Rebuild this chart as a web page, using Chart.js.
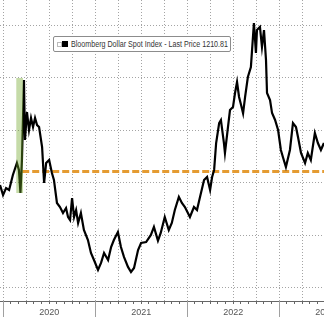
<!DOCTYPE html>
<html>
<head>
<title>Bloomberg Dollar Spot Index</title>
<script src="https://cdn.jsdelivr.net/npm/chart.js@4.4.1/dist/chart.umd.min.js"></script>
<style>
body { margin: 0; background: #fff; }
#wrap { position: relative; width: 324px; height: 317px; }
#legend {
    position: absolute; left: 53px; top: 36px; width: 176px; height: 14px;
    border: 1px solid #8c8c8c; border-radius: 2px; background: #fff;
    font: 8.5px "Liberation Sans", Arial, sans-serif; color: #333;
    white-space: nowrap; overflow: hidden;
}
#legend .sq1 { position: absolute; left: 3px; top: 5px; width: 3px; height: 3px; border: 1px solid #bbb; }
#legend .sq2 { position: absolute; left: 8px; top: 4px; width: 6px; height: 6px; background: #000; }
#legend .txt { position: absolute; left: 17px; top: 2px; transform-origin: 0 0; }
</style>
</head>
<body>
<div id="wrap">
  <canvas id="myChart"></canvas>
  <div id="legend"><span class="sq1"></span><span class="sq2"></span><span class="txt" id="legendText"></span></div>
</div>

<script>
var seriesName = "Bloomberg Dollar Spot Index - Last Price 1210.81";
var lastPrice = 1210.81;

// readings
var dates = ["2019-12-19","2019-12-31","2020-01-12","2020-01-24","2020-02-08","2020-02-24","2020-03-03","2020-03-09",
 "2020-03-15","2020-03-23","2020-03-27","2020-04-04","2020-04-12","2020-04-20","2020-04-28","2020-05-06","2020-05-14",
 "2020-05-22","2020-06-03","2020-06-11","2020-06-19","2020-07-01","2020-07-12","2020-07-20","2020-08-01","2020-08-13",
 "2020-08-25","2020-09-06","2020-09-14","2020-09-22","2020-09-30","2020-10-08","2020-10-16","2020-10-24","2020-11-04",
 "2020-11-16","2020-12-02","2020-12-14","2020-12-26","2021-01-11","2021-01-23","2021-02-04","2021-02-20","2021-03-04",
 "2021-03-15","2021-03-31","2021-04-12","2021-04-24","2021-05-10","2021-05-22","2021-06-03","2021-06-19","2021-07-01",
 "2021-07-21","2021-08-09","2021-08-21","2021-09-06","2021-09-17","2021-10-03","2021-10-19","2021-10-31","2021-11-12",
 "2021-11-28","2021-12-10","2021-12-22","2022-01-11","2022-01-27","2022-02-08","2022-02-20","2022-03-08","2022-03-20",
 "2022-04-01","2022-04-09","2022-04-17","2022-04-25","2022-05-07","2022-05-14","2022-05-26","2022-05-30","2022-06-11",
 "2022-06-19","2022-07-01","2022-07-09","2022-07-17","2022-07-25","2022-08-02","2022-08-10","2022-08-18","2022-08-29",
 "2022-09-10","2022-09-22","2022-09-30","2022-10-04","2022-10-16","2022-10-24","2022-11-01","2022-11-09","2022-11-13",
 "2022-11-25","2022-12-03","2022-12-15","2022-12-27","2023-01-07","2023-01-15","2023-01-27","2023-02-12","2023-02-24",
 "2023-03-08","2023-03-16","2023-03-28","2023-04-13","2023-04-24","2023-05-06","2023-05-22","2023-06-03","2023-06-15",
 "2023-06-27"];
var values = [1197.9,1188.4,1195.0,1193.2,1207.4,1218.8,1212.2,1190.3,
 1221.7,1297.7,1240.7,1267.3,1250.2,1261.6,1253.0,1261.6,1254.9,
 1253.0,1234.0,1199.8,1218.8,1221.7,1209.3,1202.7,1180.8,1177.0,
 1171.3,1176.0,1167.5,1164.6,1185.5,1167.5,1174.1,1161.8,1171.3,
 1155.1,1145.6,1133.3,1126.6,1117.1,1123.8,1133.3,1126.6,1138.9,
 1145.6,1153.2,1138.9,1129.5,1120.0,1115.2,1119.0,1136.1,1142.8,
 1143.7,1150.4,1158.0,1145.0,1152.3,1167.5,1155.1,1161.8,1174.1,
 1186.5,1180.8,1177.0,1167.5,1177.0,1174.1,1186.5,1202.7,1205.5,
 1193.2,1205.5,1212.2,1237.8,1256.8,1259.7,1237.8,1228.3,1253.0,
 1269.2,1272.1,1285.4,1295.8,1281.6,1274.0,1266.0,1281.6,1300.6,
 1310.1,1351.9,1323.4,1345.2,1348.1,1329.1,1345.2,1316.7,1285.4,
 1278.7,1266.3,1259.7,1250.2,1231.2,1224.5,1215.0,1231.2,1256.8,
 1253.0,1243.5,1228.3,1218.8,1228.3,1221.7,1247.3,1237.8,1231.2,
 1237.8];

var years = [2020, 2021, 2022, 2023];
var yTicks = [1100, 1150, 1200, 1250, 1300, 1350];
var dashStart = "2020-03-16";
var bandDates = ["2020-02-21", "2020-03-20"];
var bandRange = [1190.3, 1299.6];

var xMin = 2019.964, xMax = 2023.486;
var yMin = 1087.6, yMax = 1373.8;

function toYear(s) {
    var p = s.split("-");
    var t = Date.UTC(+p[0], +p[1] - 1, +p[2]);
    return 2020 + (t - Date.UTC(2020, 0, 1)) / (365.25 * 86400000);
}

var points = [];
for (var i = 0; i < dates.length; i++) {
    points.push({x: toYear(dates[i]), y: values[i]});
}

// month ticks, year label sits on the July tick
var monthTicks = [], monthLabels = [];
for (var y = 2020; y <= 2023; y++) {
    for (var m = 0; m < 12; m++) {
        var v = y + m / 12;
        if (v > 2023.51) break;
        monthTicks.push({value: v});
        monthLabels.push(m == 6 ? String(y) : "");
    }
}

var yearLines = {
    id: 'yearLines',
    afterDraw: function(chart) {
        var xs = chart.scales.x, ctx = chart.ctx;
        ctx.save();
        ctx.strokeStyle = '#a0a0a0';
        ctx.lineWidth = 1;
        years.forEach(function(yr) {
            var px = Math.round(xs.getPixelForValue(yr)) + 0.5;
            ctx.beginPath();
            ctx.moveTo(px, xs.top);
            ctx.lineTo(px, xs.bottom);
            ctx.stroke();
        });
        ctx.restore();
    }
};

var ctx = document.getElementById('myChart').getContext('2d');
var chart = new Chart(ctx, {
    type: 'line',
    data: {
        datasets: [{
            label: 'band',
            data: [{x: toYear(bandDates[0]), y: bandRange[1]}, {x: toYear(bandDates[1]), y: bandRange[1]}],
            borderColor: 'rgba(0,0,0,0)',
            borderWidth: 1,
            backgroundColor: 'rgba(110,165,37,0.4)',
            fill: {value: bandRange[0]},
            pointRadius: 0
        }, {
            label: seriesName,
            data: points,
            borderColor: '#000',
            borderWidth: 2.2,
            pointRadius: 0,
            tension: 0,
            fill: false
        }, {
            label: 'last',
            data: [{x: toYear(dashStart), y: lastPrice}, {x: xMax, y: lastPrice}],
            borderColor: '#e49b32',
            borderWidth: 3,
            borderDash: [7, 3],
            pointRadius: 0,
            fill: false
        }]
    },
    options: {
        responsive: true,
        maintainAspectRatio: false,
        animation: false,
        layout: {padding: 0},
        plugins: {legend: {display: false}, tooltip: {enabled: false}},
        scales: {
            x: {
                type: 'linear',
                min: xMin,
                max: xMax,
                afterBuildTicks: function(s) { s.ticks = monthTicks.slice(); },
                afterFit: function(s) { s.height = 16; s.paddingLeft = 0; s.paddingRight = 0; },
                ticks: {
                    autoSkip: false,
                    maxRotation: 0,
                    padding: 3,
                    color: '#555',
                    font: {family: 'Liberation Sans', size: 9},
                    callback: function(v, i) { return monthLabels[i]; }
                },
                grid: {
                    color: function(c) { return c.index % 3 == 0 ? '#a4a4a4' : 'rgba(0,0,0,0)'; },
                    tickColor: '#666',
                    tickLength: 3
                },
                border: {display: true, color: '#666', width: 1, dash: [1, 2]}
            },
            y: {
                min: yMin,
                max: yMax,
                afterBuildTicks: function(s) { s.ticks = yTicks.map(function(v) { return {value: v}; }); },
                afterFit: function(s) { s.width = 0; },
                ticks: {display: false},
                grid: {color: '#a4a4a4', drawTicks: false},
                border: {display: false, dash: [1, 2]}
            }
        }
    },
    plugins: [yearLines]
});

var lt = document.getElementById('legendText');
lt.textContent = seriesName;
var w = lt.getBoundingClientRect().width;
lt.style.transform = 'scaleX(' + (157 / w) + ')';
</script>
</body>
</html>
